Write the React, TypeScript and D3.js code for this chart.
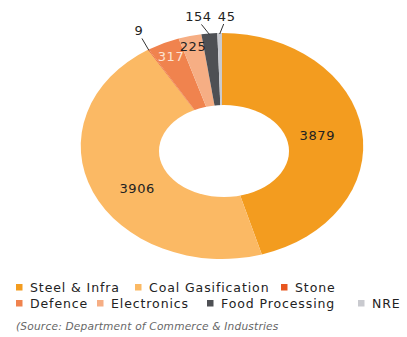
import React from "react";
import * as d3 from "d3";

const categories = ["Steel & Infra", "Coal Gasification", "Stone", "Defence", "Electronics", "Food Processing", "NRE"];
const values = [3879, 3906, 9, 317, 225, 154, 45];
const colors = ["#F39C1F", "#FBB964", "#E8561F", "#F0834E", "#F6AE84", "#4E5054", "#C9CACF"];
const labelColors = ["#222", "#222", "#222", "#FCE3D3", "#222", "#222", "#222"];
const sourceText = "(Source: Department of Commerce & Industries";

// layout
const W = 407, H = 337;
const cx = 222, cy = 146;
const R = 113, sx = 1.25;
const hole = { cx: 224, cy: 151, rx: 65, ry: 46 };
// label mode per slice: "in" = radial, "out" = leader line with offset
const labelLayout = [
  { mode: "in", rr: 77, da: 0 },
  { mode: "in", rr: 80, da: -8 },
  { mode: "out", dx: -10, dy: -15 },
  { mode: "in", rr: 98, da: 0 },
  { mode: "in", rr: 102, da: 0 },
  { mode: "out", dx: -11, dy: -13 },
  { mode: "out", dx: 7, dy: -13 },
];
const legendPos = [
  [16, 287], [135, 287], [281, 287],
  [16, 303], [97, 303], [207, 303], [358, 303],
];

export default function App() {
  const pie = d3.pie<number>().sort(null).value((d) => d)(values);
  const arc = d3.arc<d3.PieArcDatum<number>>().innerRadius(0).outerRadius(R);
  const font = "'DejaVu Sans', sans-serif";
  return (
    <svg width={W} height={H} style={{ position: "absolute", left: 0, top: 0, background: "#fff" }}>
      <g transform={`translate(${cx},${cy}) scale(${sx},1)`}>
        {pie.map((p, i) => (
          <path key={i} d={arc(p) || ""} fill={colors[i]} />
        ))}
      </g>
      <ellipse cx={hole.cx} cy={hole.cy} rx={hole.rx} ry={hole.ry} fill="#fff" />
      {pie.map((p, i) => {
        const L: any = labelLayout[i];
        const mid = (p.startAngle + p.endAngle) / 2;
        if (L.mode === "in") {
          const a = mid + (L.da * Math.PI) / 180;
          const x = cx + Math.sin(a) * L.rr * sx;
          const y = cy - Math.cos(a) * L.rr;
          return (
            <text key={i} x={x} y={y} dy="0.35em" textAnchor="middle" fontFamily={font} fontSize={13} letterSpacing={0.6} fill={labelColors[i]}>
              {values[i]}
            </text>
          );
        }
        const ox = cx + Math.sin(mid) * (R - 1) * sx;
        const oy = cy - Math.cos(mid) * (R - 1);
        const tx = ox + L.dx;
        const ty = oy + L.dy;
        return (
          <g key={i}>
            <line x1={ox} y1={oy} x2={tx + (L.dx < 0 ? 3 : -3)} y2={ty + 3} stroke="#333" strokeWidth={1} />
            <text x={tx} y={ty} textAnchor="middle" fontFamily={font} fontSize={13} letterSpacing={0.6} fill={labelColors[i]}>
              {values[i]}
            </text>
          </g>
        );
      })}
      {categories.map((c, i) => (
        <g key={c} transform={`translate(${legendPos[i][0]},${legendPos[i][1]})`}>
          <rect x={0} y={-3} width={6.5} height={6.5} fill={colors[i]} />
          <text x={14} y={0} dy="0.36em" fontFamily={font} fontSize={12.5} letterSpacing={0.9} fill="#222">
            {c}
          </text>
        </g>
      ))}
      <text x={16} y={326} dy="0.35em" fontFamily={font} fontSize={10.6} fontStyle="italic" letterSpacing={0.2} fill="#666">
        {sourceText}
      </text>
    </svg>
  );
}
